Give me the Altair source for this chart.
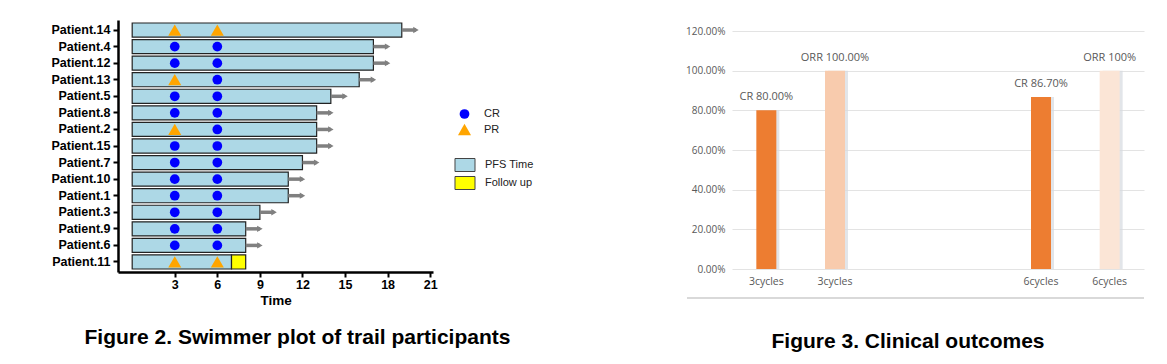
import altair as alt
import pandas as pd

# ---------------- data: swimmer plot ----------------
patients = ["Patient.14", "Patient.4", "Patient.12", "Patient.13", "Patient.5",
            "Patient.8", "Patient.2", "Patient.15", "Patient.7", "Patient.10",
            "Patient.1", "Patient.3", "Patient.9", "Patient.6", "Patient.11"]
pfs_time = [19, 17, 17, 16, 14, 13, 13, 13, 12, 11, 11, 9, 8, 8, 7]
ongoing = [True] * 14 + [False]
resp_at_3 = ["PR", "CR", "CR", "PR", "CR", "CR", "PR", "CR", "CR", "CR", "CR", "CR", "CR", "CR", "PR"]
resp_at_6 = ["PR", "CR", "CR", "CR", "CR", "CR", "CR", "CR", "CR", "CR", "CR", "CR", "CR", "CR", "PR"]
assess_times = [3, 6]
followup_patient = "Patient.11"
followup_start = 7
followup_end = 8
arrow_len = 1.0
x_ticks = [3, 6, 9, 12, 15, 18, 21]

# ---------------- data: clinical outcomes ----------------
slot_keys = ["3cycles CR", "3cycles ORR", "gap1", "gap2", "6cycles CR", "6cycles ORR"]
bar_keys = ["3cycles CR", "3cycles ORR", "6cycles CR", "6cycles ORR"]
rates = [0.80, 1.00, 0.867, 1.00]
rate_labels = ["CR 80.00%", "ORR 100.00%", "CR 86.70%", "ORR 100%"]
bar_colors = ["#ED7D31", "#F8CBAD", "#ED7D31", "#FBE5D6"]
y_ticks = [0, 0.2, 0.4, 0.6, 0.8, 1.0, 1.2]

FONT_L = "Liberation Sans"
FONT_R = "Open Sans"

# ---------------- tables ----------------
bars_df = pd.DataFrame({"patient": patients, "start": 0, "end": pfs_time, "kind": "PFS Time"})
bars_df = pd.concat([bars_df, pd.DataFrame({"patient": [followup_patient], "start": [followup_start],
                                            "end": [followup_end], "kind": ["Follow up"]})])
pts_df = pd.concat([
    pd.DataFrame({"patient": patients, "time": assess_times[0], "resp": resp_at_3}),
    pd.DataFrame({"patient": patients, "time": assess_times[1], "resp": resp_at_6}),
])
arr_df = pd.DataFrame({"patient": patients, "x0": pfs_time,
                       "x1": [p + arrow_len for p in pfs_time], "on": ongoing})
arr_df = arr_df[arr_df["on"]]

ybase = alt.Y("patient:N", sort=patients,
              scale=alt.Scale(paddingInner=0.15, paddingOuter=0.18),
              axis=alt.Axis(title=None, domainColor="black", domainWidth=2.5,
                            tickColor="black", tickWidth=2, tickSize=5,
                            labelFont=FONT_L, labelFontWeight="bold", labelFontSize=12.5,
                            labelColor="black", labelPadding=3))
xscale = alt.Scale(domain=[-1, 21.2], nice=False, zero=False)
xaxis = alt.Axis(values=x_ticks, title="Time", grid=False, domainColor="black", domainWidth=2.5,
                 tickColor="black", tickWidth=2, tickSize=5, labelFont=FONT_L,
                 labelFontWeight="bold", labelFontSize=12.5, labelColor="black", labelPadding=1,
                 titleFont=FONT_L, titleFontWeight="bold", titleFontSize=13.5, titleColor="black",
                 titlePadding=3)

bars = alt.Chart(bars_df).mark_bar(stroke="#222222", strokeWidth=1.2).encode(
    x=alt.X("start:Q", scale=xscale, axis=xaxis),
    x2="end:Q",
    y=ybase,
    fill=alt.Fill("kind:N", scale=alt.Scale(domain=["PFS Time", "Follow up"], range=["#ADD8E6", "#FFFF00"]),
                  legend=alt.Legend(title=None, orient="none", legendX=340, legendY=138,
                                    symbolType="M-1.54,-1H1.54V1H-1.54Z", symbolSize=169,
                                    symbolStrokeColor="#444444", symbolStrokeWidth=1,
                                    labelFont="Liberation Sans", labelFontSize=11, labelColor="#222222",
                                    labelOffset=13, rowPadding=0, padding=0)),
)

resp_legend = alt.Legend(title=None, orient="none", legendX=339, legendY=88,
                         labelFont="Liberation Sans", labelFontSize=11,
                         labelColor="#222222", labelOffset=12, rowPadding=3, padding=0)
points = alt.Chart(pts_df).mark_point(filled=True, opacity=1).encode(
    x=alt.X("time:Q", scale=xscale, axis=xaxis),
    y=ybase,
    color=alt.Color("resp:N", scale=alt.Scale(domain=["CR", "PR"], range=["#0000FF", "#FFA500"]),
                    legend=resp_legend),
    shape=alt.Shape("resp:N", scale=alt.Scale(domain=["CR", "PR"], range=["circle", "triangle-up"]),
                    legend=resp_legend),
    size=alt.Size("resp:N", scale=alt.Scale(domain=["CR", "PR"], range=[95, 170]),
                  legend=resp_legend),
)

arrows = alt.Chart(arr_df).mark_rule(color="#808080", strokeWidth=3.5).encode(
    x=alt.X("x0:Q", scale=xscale, axis=xaxis), x2="x1:Q", y=ybase)
heads = alt.Chart(arr_df).mark_point(shape="triangle-right", filled=True, size=40,
                                     color="#808080", opacity=1).encode(
    x=alt.X("x1:Q", scale=xscale, axis=xaxis), y=ybase)

left = alt.layer(bars, arrows, heads, points).properties(
    width=315, height=252,
    title=alt.TitleParams("Figure 2. Swimmer plot of trail participants", orient="bottom",
                          font=FONT_L, fontSize=21, fontWeight="bold", color="black",
                          offset=20, dx=22, anchor="middle"),
)

# ---------------- right chart ----------------
cyc_df = pd.DataFrame({"key": bar_keys, "rate": rates, "label": rate_labels, "color": bar_colors})
xr = alt.X("key:N", sort=slot_keys,
           scale=alt.Scale(domain=slot_keys, paddingInner=0, paddingOuter=0),
           axis=alt.Axis(title=None, labelAngle=0, domain=False, ticks=False,
                         labelExpr="indexof(datum.value, 'gap') == 0 ? '' : split(datum.value, ' ')[0]",
                         labelFont=FONT_R, labelFontSize=10.5, labelColor="#595959", labelPadding=7))
yr = alt.Y("rate:Q", scale=alt.Scale(domain=[0, 1.2555], nice=False, zero=True),
           axis=alt.Axis(values=y_ticks, format=".2%", title=None, domain=False, ticks=False,
                         gridColor="#E3E3E3", gridWidth=1, labelFont=FONT_R, labelFontSize=10,
                         labelColor="#595959", labelPadding=7))

shadow = alt.Chart(cyc_df).mark_bar(size=20, xOffset=3, color="#D5DAE0", opacity=0.7).encode(x=xr, y=yr)
cbars = alt.Chart(cyc_df).mark_bar(size=20).encode(x=xr, y=yr, fill=alt.Fill("color:N", scale=None))
ctext = alt.Chart(cyc_df).mark_text(baseline="bottom", dy=-8, font=FONT_R, fontSize=11,
                                    color="#595959").encode(x=xr, y=yr, text="label:N")
border = alt.Chart(cyc_df).mark_rule(color="#D9D9D9", strokeWidth=1.5).encode(
    x=alt.value(-45), x2=alt.value(412), y=alt.value(278))

right = alt.layer(shadow, cbars, ctext, border).properties(
    width=412, height=249,
    title=alt.TitleParams("Figure 3. Clinical outcomes", orient="bottom",
                          font=FONT_L, fontSize=21, fontWeight="bold", color="black",
                          offset=32, dx=-30, anchor="middle"),
)

chart = alt.hconcat(left, right, spacing=174).properties(
    padding={"left": 42, "top": 12, "right": 5, "bottom": 5},
    background="white",
).configure_view(stroke=None)

chart.save("out.html", embed_options={"renderer": "svg", "actions": False})
